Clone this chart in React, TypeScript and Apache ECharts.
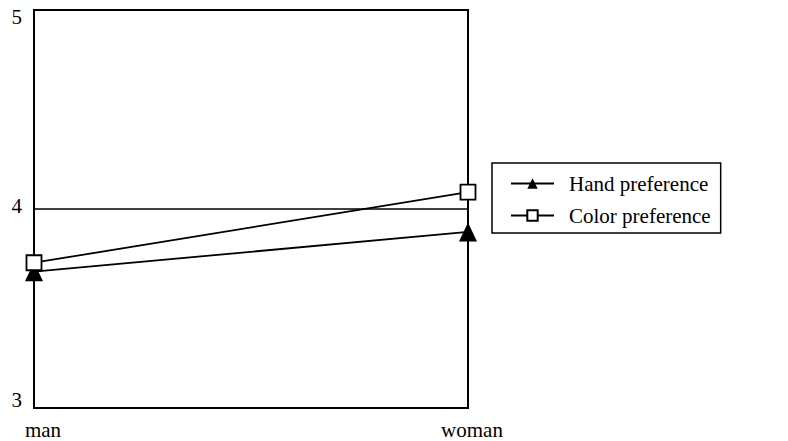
import React, { useEffect, useRef } from "react";
import * as echarts from "echarts";

const categories = ["man", "woman"];
const handPreference = [3.685, 3.885];
const colorPreference = [3.73, 4.085];
const yTicks = [3, 4, 5];

const FONT = "Liberation Serif";

export default function App() {
  const ref = useRef<HTMLDivElement>(null);
  useEffect(() => {
    if (!ref.current) return;
    const chart = echarts.init(ref.current, undefined, { renderer: "svg" });
    const tok = (pad: number[]) => ({
      padding: pad,
      fontFamily: FONT,
      fontSize: 21,
      color: "#000",
    });
    chart.setOption({
      animation: false,
      backgroundColor: "#fff",
      textStyle: { fontFamily: FONT, color: "#000" },
      grid: {
        left: 34,
        top: 10,
        right: 320,
        bottom: 33,
        show: true,
        borderColor: "#000",
        borderWidth: 2,
        backgroundColor: "transparent",
      },
      legend: {
        left: 492,
        top: 163,
        orient: "vertical",
        data: ["Hand preference", "Color preference"],
        itemWidth: 43,
        itemHeight: 13,
        itemGap: 11,
        padding: [10, 10, 7, 18],
        borderColor: "#000",
        borderWidth: 1.5,
        textStyle: {
          fontFamily: FONT,
          fontSize: 21,
          color: "#000",
          padding: [0, 0, 0, 10],
        },
      },
      xAxis: {
        type: "category",
        data: categories,
        boundaryGap: false,
        axisLine: { show: true, lineStyle: { color: "#000", width: 2 } },
        axisTick: { show: false },
        splitLine: { show: false },
        axisLabel: {
          margin: 11,
          fontFamily: FONT,
          fontSize: 21,
          color: "#000",
          formatter: (v: string) => (v === "man" ? `{m|${v}}` : `{w|${v}}`),
          rich: {
            m: tok([0, 0, 0, 18]),
            w: tok([0, 0, 0, 8]),
          },
        },
      },
      yAxis: {
        type: "value",
        min: yTicks[0],
        max: yTicks[yTicks.length - 1],
        interval: 1,
        axisLine: { show: true, lineStyle: { color: "#000", width: 2 } },
        axisTick: { show: false },
        splitLine: { show: true, lineStyle: { color: "#000", width: 1.5 } },
        axisLabel: {
          margin: 12,
          fontFamily: FONT,
          fontSize: 21,
          color: "#000",
          formatter: (v: number) => `{t${v}|${v}}`,
          rich: {
            t5: tok([14, 0, 0, 0]),
            t4: tok([0, 0, 6, 0]),
            t3: tok([0, 0, 16, 0]),
          },
        },
      },
      series: [
        {
          name: "Hand preference",
          type: "line",
          data: handPreference,
          symbol: "triangle",
          symbolSize: [18, 19],
          lineStyle: { color: "#000", width: 1.8 },
          itemStyle: { color: "#000", borderColor: "#000", borderWidth: 0 },
          emphasis: { disabled: true },
        },
        {
          name: "Color preference",
          type: "line",
          data: colorPreference,
          symbol: "rect",
          symbolSize: 15,
          lineStyle: { color: "#000", width: 1.8 },
          itemStyle: { color: "#fff", borderColor: "#000", borderWidth: 1.8 },
          emphasis: { disabled: true },
        },
      ],
    });
    return () => chart.dispose();
  }, []);
  return (
    <div
      ref={ref}
      style={{ position: "fixed", left: 0, top: 0, width: 788, height: 441 }}
    />
  );
}
